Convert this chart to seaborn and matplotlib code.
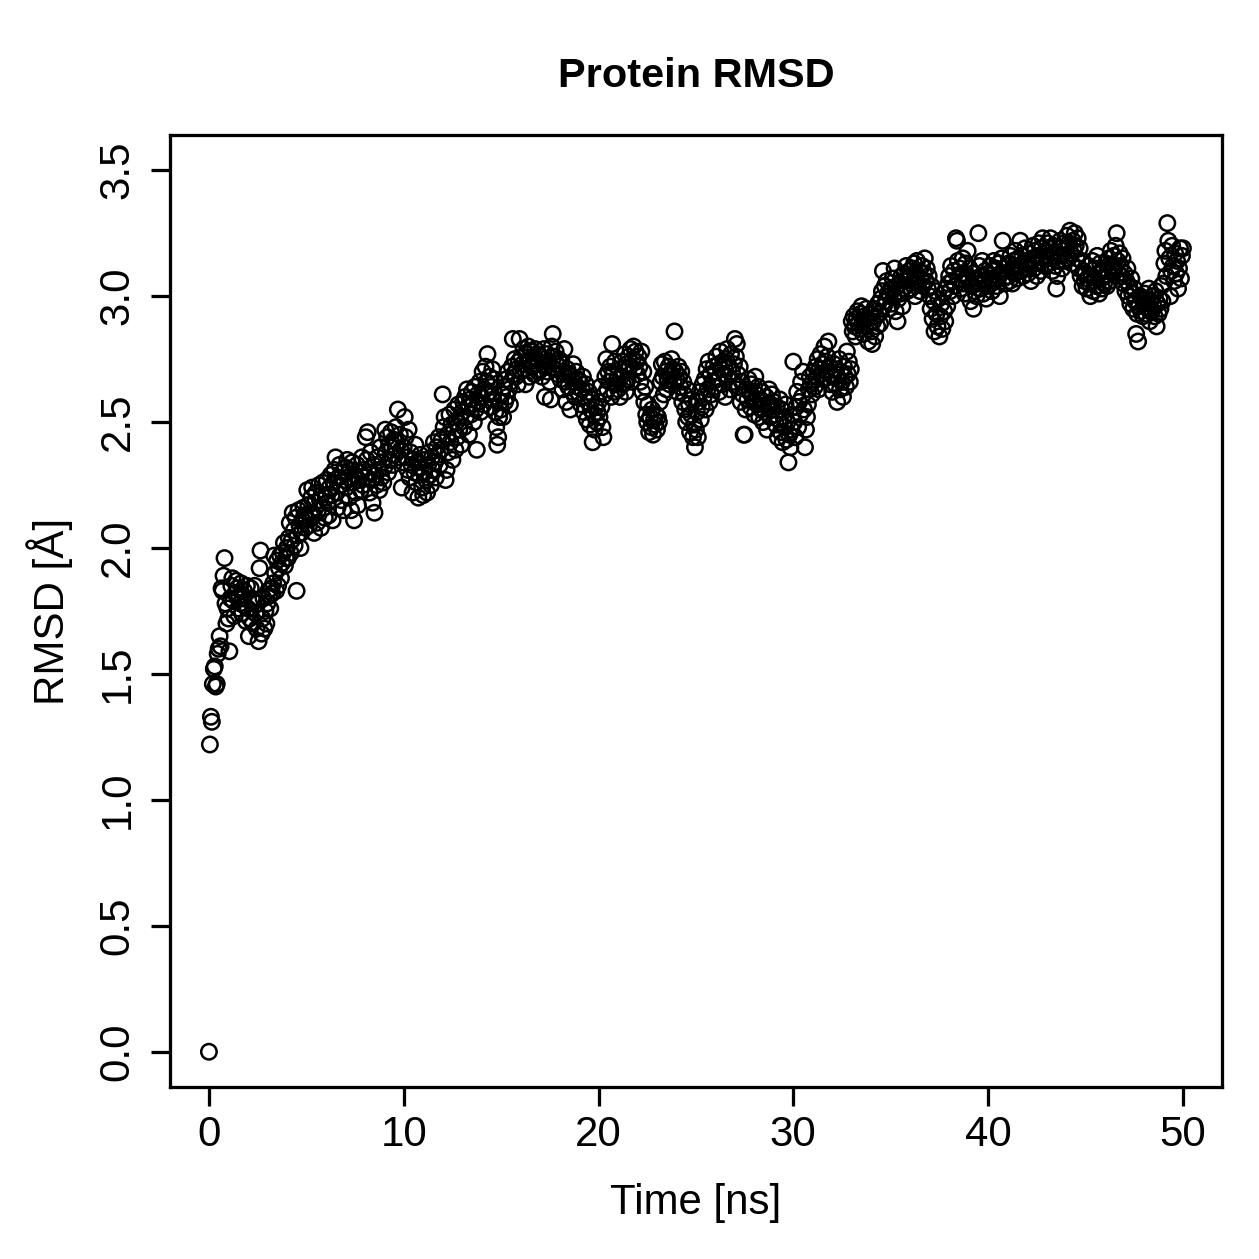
import numpy as np
import pandas as pd
import matplotlib
matplotlib.use("Agg")
import matplotlib.pyplot as plt
import seaborn as sns

# RMSD values (Angstrom), one frame every 0.05 ns
rmsd_0_10 = [
    0.00, 1.22, 1.33, 1.31, 1.46, 1.52, 1.53, 1.45, 1.46, 1.58, 1.60, 1.65, 1.61, 1.84, 1.83, 1.89, 1.96, 1.78, 1.70, 1.76,
    1.72, 1.59, 1.80, 1.85, 1.88, 1.79, 1.73, 1.82, 1.87, 1.84, 1.76, 1.81, 1.78, 1.86, 1.74, 1.80, 1.83, 1.77, 1.71, 1.85,
    1.76, 1.65, 1.72, 1.84, 1.80, 1.70, 1.79, 1.85, 1.74, 1.68, 1.78, 1.63, 1.92, 1.99, 1.66, 1.72, 1.80, 1.68, 1.75, 1.70,
    1.78, 1.83, 1.81, 1.76, 1.84, 1.82, 1.86, 1.97, 1.90, 1.83, 1.95, 1.85, 1.92, 1.97, 1.88, 1.94, 1.98, 2.02, 1.93, 1.96,
    2.00, 1.96, 2.04, 2.10, 1.98, 2.03, 2.14, 2.07, 2.01, 2.12, 1.83, 2.05, 2.15, 2.09, 2.00, 2.06, 2.11, 2.16, 2.13, 2.08,
    2.12, 2.23, 2.17, 2.09, 2.14, 2.20, 2.24, 2.13, 2.06, 2.18, 2.22, 2.10, 2.15, 2.25, 2.19, 2.08, 2.21, 2.26, 2.16, 2.12,
    2.20, 2.27, 2.18, 2.13, 2.24, 2.29, 2.21, 2.11, 2.26, 2.31, 2.36, 2.22, 2.16, 2.28, 2.33, 2.25, 2.19, 2.30, 2.15, 2.27,
    2.32, 2.24, 2.35, 2.28, 2.20, 2.31, 2.15, 2.34, 2.26, 2.11, 2.29, 2.22, 2.33, 2.17, 2.27, 2.30, 2.23, 2.36, 2.25, 2.31,
    2.28, 2.44, 2.35, 2.46, 2.30, 2.22, 2.38, 2.27, 2.18, 2.33, 2.14, 2.29, 2.25, 2.36, 2.31, 2.23, 2.40, 2.28, 2.34, 2.26,
    2.32, 2.47, 2.38, 2.44, 2.30, 2.41, 2.35, 2.46, 2.40, 2.33, 2.43, 2.37, 2.48, 2.42, 2.55, 2.36, 2.45, 2.39, 2.24, 2.34,
]
rmsd_10_20 = [
    2.40, 2.52, 2.44, 2.36, 2.31, 2.47, 2.28, 2.38, 2.33, 2.22, 2.35, 2.30, 2.41, 2.26, 2.34, 2.20, 2.29, 2.37, 2.32, 2.24,
    2.21, 2.30, 2.35, 2.27, 2.22, 2.33, 2.38, 2.29, 2.25, 2.36, 2.31, 2.42, 2.34, 2.28, 2.40, 2.37, 2.44, 2.33, 2.39, 2.43,
    2.61, 2.48, 2.52, 2.27, 2.31, 2.45, 2.38, 2.53, 2.42, 2.49, 2.35, 2.46, 2.55, 2.39, 2.50, 2.44, 2.57, 2.47, 2.52, 2.41,
    2.54, 2.58, 2.48, 2.60, 2.52, 2.63, 2.56, 2.45, 2.59, 2.53, 2.62, 2.57, 2.50, 2.64, 2.55, 2.39, 2.61, 2.58, 2.66, 2.54,
    2.60, 2.70, 2.57, 2.63, 2.72, 2.66, 2.77, 2.61, 2.68, 2.56, 2.64, 2.71, 2.59, 2.67, 2.54, 2.48, 2.41, 2.44, 2.52, 2.58,
    2.55, 2.61, 2.52, 2.64, 2.58, 2.67, 2.60, 2.70, 2.63, 2.57, 2.66, 2.72, 2.83, 2.69, 2.75, 2.68, 2.71, 2.65, 2.74, 2.83,
    2.70, 2.76, 2.73, 2.79, 2.71, 2.65, 2.77, 2.74, 2.80, 2.68, 2.75, 2.78, 2.72, 2.76, 2.69, 2.79, 2.73, 2.77, 2.70, 2.74,
    2.71, 2.76, 2.68, 2.73, 2.79, 2.60, 2.72, 2.77, 2.70, 2.74, 2.66, 2.59, 2.80, 2.85, 2.76, 2.71, 2.78, 2.73, 2.69, 2.75,
    2.72, 2.67, 2.74, 2.63, 2.70, 2.79, 2.66, 2.58, 2.71, 2.64, 2.69, 2.55, 2.68, 2.62, 2.73, 2.66, 2.60, 2.70, 2.64, 2.67,
    2.61, 2.66, 2.57, 2.63, 2.68, 2.54, 2.60, 2.65, 2.51, 2.58, 2.62, 2.49, 2.55, 2.59, 2.42, 2.53, 2.47, 2.56, 2.50, 2.54,
]
rmsd_20_30 = [
    2.58, 2.52, 2.64, 2.56, 2.48, 2.44, 2.61, 2.68, 2.75, 2.63, 2.70, 2.66, 2.72, 2.60, 2.81, 2.69, 2.62, 2.74, 2.65, 2.67,
    2.63, 2.71, 2.60, 2.68, 2.74, 2.65, 2.70, 2.77, 2.62, 2.73, 2.67, 2.76, 2.72, 2.79, 2.66, 2.75, 2.80, 2.71, 2.78, 2.74,
    2.69, 2.76, 2.72, 2.66, 2.78, 2.62, 2.70, 2.58, 2.64, 2.53, 2.50, 2.57, 2.46, 2.52, 2.48, 2.55, 2.45, 2.51, 2.49, 2.53,
    2.47, 2.52, 2.50, 2.58, 2.66, 2.73, 2.68, 2.61, 2.74, 2.70, 2.63, 2.67, 2.72, 2.65, 2.69, 2.75, 2.71, 2.66, 2.86, 2.70,
    2.67, 2.62, 2.72, 2.68, 2.64, 2.70, 2.58, 2.66, 2.61, 2.55, 2.50, 2.63, 2.52, 2.57, 2.46, 2.53, 2.59, 2.44, 2.49, 2.40,
    2.47, 2.54, 2.44, 2.58, 2.62, 2.51, 2.56, 2.65, 2.60, 2.67, 2.55, 2.71, 2.63, 2.74, 2.58, 2.69, 2.61, 2.66, 2.72, 2.64,
    2.70, 2.76, 2.67, 2.73, 2.62, 2.78, 2.71, 2.65, 2.74, 2.69, 2.60, 2.75, 2.79, 2.68, 2.72, 2.63, 2.77, 2.70, 2.66, 2.73,
    2.83, 2.76, 2.81, 2.69, 2.64, 2.72, 2.58, 2.66, 2.61, 2.45, 2.45, 2.55, 2.63, 2.59, 2.67, 2.62, 2.56, 2.65, 2.60, 2.58,
    2.53, 2.68, 2.61, 2.57, 2.64, 2.52, 2.59, 2.55, 2.62, 2.50, 2.58, 2.54, 2.60, 2.47, 2.56, 2.63, 2.52, 2.57, 2.61, 2.55,
    2.58, 2.53, 2.49, 2.56, 2.44, 2.51, 2.59, 2.46, 2.55, 2.42, 2.52, 2.48, 2.57, 2.43, 2.50, 2.34, 2.45, 2.40, 2.47, 2.53,
]
rmsd_30_40 = [
    2.74, 2.50, 2.44, 2.56, 2.62, 2.48, 2.58, 2.53, 2.66, 2.60, 2.70, 2.55, 2.40, 2.47, 2.52, 2.57, 2.63, 2.68, 2.65, 2.61,
    2.66, 2.70, 2.64, 2.72, 2.68, 2.75, 2.63, 2.71, 2.77, 2.69, 2.73, 2.67, 2.80, 2.74, 2.70, 2.76, 2.82, 2.72, 2.65, 2.69,
    2.62, 2.68, 2.73, 2.65, 2.71, 2.58, 2.67, 2.75, 2.63, 2.70, 2.66, 2.60, 2.72, 2.68, 2.64, 2.78, 2.69, 2.74, 2.66, 2.71,
    2.90, 2.86, 2.92, 2.88, 2.84, 2.91, 2.94, 2.89, 2.87, 2.93, 2.96, 2.90, 2.85, 2.92, 2.88, 2.95, 2.91, 2.82, 2.89, 2.93,
    2.86, 2.81, 2.90, 2.95, 2.84, 2.92, 2.88, 2.97, 2.93, 2.89, 2.99, 3.02, 3.10, 2.96, 3.04, 2.98, 3.06, 3.01, 2.95, 3.00,
    3.03, 2.97, 3.07, 3.00, 3.11, 2.94, 3.04, 2.90, 2.99, 3.05, 3.01, 3.08, 2.96, 3.03, 3.09, 3.06, 3.12, 3.02, 3.07, 3.10,
    3.08, 3.03, 3.11, 3.06, 3.13, 3.00, 3.09, 3.14, 3.05, 3.10, 3.02, 3.07, 3.12, 3.04, 3.09, 3.15, 3.06, 3.11, 3.03, 3.08,
    3.00, 2.95, 3.04, 2.91, 2.98, 2.86, 3.02, 2.93, 2.88, 2.99, 2.84, 2.92, 2.97, 2.87, 3.01, 2.94, 2.90, 3.03, 2.96, 3.05,
    3.08, 3.02, 3.12, 3.06, 3.00, 3.10, 3.04, 3.23, 3.22, 3.14, 3.07, 3.11, 3.03, 3.09, 3.15, 3.05, 3.01, 3.13, 3.08, 3.18,
    3.06, 3.11, 2.98, 3.04, 3.09, 2.95, 3.02, 3.07, 3.00, 3.05, 3.25, 3.12, 3.03, 3.08, 3.14, 3.01, 3.06, 3.10, 2.99, 3.04,
]
rmsd_40_50 = [
    3.09, 3.05, 3.12, 3.07, 3.02, 3.10, 3.14, 3.06, 3.11, 3.04, 3.08, 3.13, 3.00, 3.09, 3.15, 3.22, 3.07, 3.11, 3.05, 3.12,
    3.08, 3.13, 3.06, 3.16, 3.10, 3.05, 3.14, 3.09, 3.18, 3.11, 3.07, 3.15, 3.12, 3.22, 3.10, 3.16, 3.08, 3.13, 3.19, 3.11,
    3.14, 3.09, 3.17, 3.12, 3.06, 3.15, 3.20, 3.11, 3.18, 3.13, 3.08, 3.16, 3.21, 3.14, 3.10, 3.19, 3.23, 3.15, 3.12, 3.18,
    3.16, 3.21, 3.13, 3.19, 3.23, 3.15, 3.10, 3.20, 3.17, 3.12, 3.03, 3.08, 3.14, 3.19, 3.22, 3.16, 3.11, 3.18, 3.21, 3.14,
    3.19, 3.24, 3.15, 3.21, 3.26, 3.17, 3.13, 3.22, 3.18, 3.25, 3.20, 3.15, 3.23, 3.11, 3.19, 3.08, 3.14, 3.04, 3.10, 3.06,
    3.09, 3.03, 3.07, 3.12, 3.05, 3.00, 3.08, 3.14, 3.02, 3.06, 3.11, 3.04, 3.16, 3.09, 3.01, 3.13, 3.07, 3.03, 3.10, 3.05,
    3.08, 3.13, 3.04, 3.10, 3.15, 3.06, 3.18, 3.12, 3.10, 3.16, 3.11, 3.20, 3.25, 3.14, 3.09, 3.17, 3.12, 3.08, 3.15, 3.05,
    3.09, 3.02, 3.06, 3.11, 3.00, 3.04, 2.97, 3.07, 3.01, 2.95, 3.03, 2.98, 2.85, 2.93, 2.82, 2.96, 3.00, 2.94, 2.99, 2.92,
    2.97, 3.01, 2.93, 2.99, 2.95, 3.03, 2.90, 2.98, 2.94, 3.00, 2.96, 2.92, 3.02, 2.88, 2.97, 2.93, 2.99, 2.95, 3.04, 2.98,
    3.05, 3.13, 3.18, 3.08, 3.29, 3.22, 3.15, 3.00, 3.10, 3.20, 3.12, 3.06, 3.17, 3.09, 3.14, 3.03, 3.11, 3.19, 3.07, 3.16,
    3.19,
]
frame_step_ns = 0.05

rmsd = rmsd_0_10 + rmsd_10_20 + rmsd_20_30 + rmsd_30_40 + rmsd_40_50
df = pd.DataFrame({"time": np.arange(len(rmsd)) * frame_step_ns, "rmsd": rmsd})

sns.set_theme(style="ticks")
plt.rcParams["font.family"] = ["Liberation Sans", "DejaVu Sans"]
plt.rcParams["text.color"] = "black"
plt.rcParams["axes.labelcolor"] = "black"

fig = plt.figure(figsize=(1259 / 180, 1259 / 180), dpi=180)
ax = fig.add_axes([0.135, 0.1366, 0.8355, 0.7562])

sns.scatterplot(data=df, x="time", y="rmsd", ax=ax, marker="o", s=38,
                facecolors="none", edgecolor="black", linewidth=1.0, legend=False)

ax.set_xlim(-2, 52)
ax.set_ylim(-0.14, 3.64)
ax.set_xticks([0, 10, 20, 30, 40, 50])
ax.set_yticks([0.0, 0.5, 1.0, 1.5, 2.0, 2.5, 3.0, 3.5])
ax.set_yticklabels(["0.0", "0.5", "1.0", "1.5", "2.0", "2.5", "3.0", "3.5"],
                   rotation=90, va="center")
ax.tick_params(axis="both", colors="black", labelsize=16.8, length=7.5, width=1.3)
ax.tick_params(axis="x", pad=3.5)
ax.tick_params(axis="y", pad=5.5)
for sp in ax.spines.values():
    sp.set_color("black")
    sp.set_linewidth(1.3)

ax.set_title("Protein RMSD", fontsize=16.6, fontweight="bold", color="black", pad=19)
ax.set_xlabel("Time [ns]", fontsize=16.8, va="center", color="black")
ax.set_ylabel("RMSD [Å]", fontsize=16.8, va="center", color="black")
ax.xaxis.set_label_coords(0.5, -0.1218)
ax.yaxis.set_label_coords(-0.114, 0.5)

fig.savefig("out.png", dpi=180, facecolor="white")
